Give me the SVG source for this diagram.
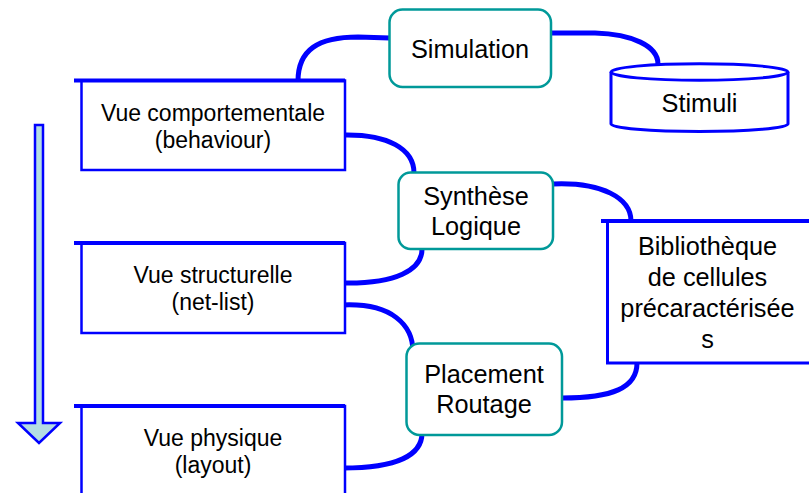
<svg xmlns="http://www.w3.org/2000/svg" width="809" height="493" viewBox="0 0 809 493">
  <style>
    .view { fill: #ffffff; stroke: #0000ff; stroke-width: 2.5; }
    .viewtop { stroke: #0000ff; stroke-width: 4; stroke-linecap: butt; }
    .tool { fill: #ffffff; stroke: #009999; stroke-width: 2.5; }
    .store { fill: #ffffff; stroke: #0000ff; stroke-width: 3; }
    .link { fill: none; stroke: #0000ff; stroke-width: 5; stroke-linecap: butt; }
    text { font-family: "Liberation Sans", Arial, sans-serif; fill: #000000; text-anchor: middle; }
    .lt { font-size: 23px; }
    .rt { font-size: 25.3px; }
  </style>
  <rect width="809" height="493" fill="#ffffff"/>

  <!-- design-flow arrow -->
  <g id="flow-arrow">
    <polygon points="35,125 43,125 43,423 60,423 39,443 18,423 35,423" fill="#b4dde3" stroke="#0000ff" stroke-width="2.5" stroke-linejoin="miter"/>
  </g>

  <!-- connectors -->
  <g id="connectors">
    <path class="link" d="M298,81 C298,50 318,37 358,37 L390,38"/>
    <path class="link" d="M551,33 L595,33 C632,34 658,46 658,64"/>
    <path class="link" d="M343,135 C388,134 414,149 414,173"/>
    <path class="link" d="M343,283 C396,284 422,270 422,249"/>
    <path class="link" d="M343,305 C392,303 413,325 413,352"/>
    <path class="link" d="M553,184 C602,182 631,198 631,221"/>
    <path class="link" d="M562,398 C612,398 637,388 637,363"/>
    <path class="link" d="M343,468 C397,468 422,455 422,433"/>
  </g>

  <g id="vue-comportementale">
    <rect class="view" x="81.5" y="80.5" width="263.5" height="89.5"/>
    <line class="viewtop" x1="74" y1="80.5" x2="345" y2="80.5"/>
    <text class="lt" x="213" y="121">Vue comportementale</text>
    <text class="lt" x="213" y="148">(behaviour)</text>
  </g>

  <g id="vue-structurelle">
    <rect class="view" x="81.5" y="243" width="263.5" height="90"/>
    <line class="viewtop" x1="74" y1="243" x2="345" y2="243"/>
    <text class="lt" x="213" y="283">Vue structurelle</text>
    <text class="lt" x="213" y="310">(net-list)</text>
  </g>

  <g id="vue-physique">
    <rect class="view" x="81.5" y="406" width="263.5" height="100"/>
    <line class="viewtop" x1="74" y1="406" x2="345" y2="406"/>
    <text class="lt" x="213" y="446">Vue physique</text>
    <text class="lt" x="213" y="473">(layout)</text>
  </g>

  <g id="simulation">
    <rect class="tool" x="389.5" y="9.5" width="161.5" height="77.5" rx="13"/>
    <text class="rt" x="470" y="58">Simulation</text>
  </g>

  <g id="stimuli">
    <path class="store" d="M611,72 L611,124 A88.5,7.5 0 0 0 788,124 L788,72"/>
    <ellipse class="store" cx="699.5" cy="72" rx="88.5" ry="8.3"/>
    <text class="rt" x="699.5" y="112">Stimuli</text>
  </g>

  <g id="synthese-logique">
    <rect class="tool" x="398.5" y="172.5" width="154.5" height="76.5" rx="12"/>
    <text class="rt" x="476" y="205">Synthèse</text>
    <text class="rt" x="476" y="235">Logique</text>
  </g>

  <g id="bibliotheque">
    <rect class="store" x="607.5" y="221" width="203" height="142"/>
    <line class="viewtop" x1="601" y1="221" x2="809" y2="221"/>
    <text class="rt" x="707.5" y="255">Bibliothèque</text>
    <text class="rt" x="707.5" y="286">de cellules</text>
    <text class="rt" x="707.5" y="317">précaractérisée</text>
    <text class="rt" x="707.5" y="348">s</text>
  </g>

  <g id="placement-routage">
    <rect class="tool" x="406.5" y="343.5" width="155.5" height="91.5" rx="13"/>
    <text class="rt" x="484" y="383">Placement</text>
    <text class="rt" x="484" y="413">Routage</text>
  </g>
</svg>
